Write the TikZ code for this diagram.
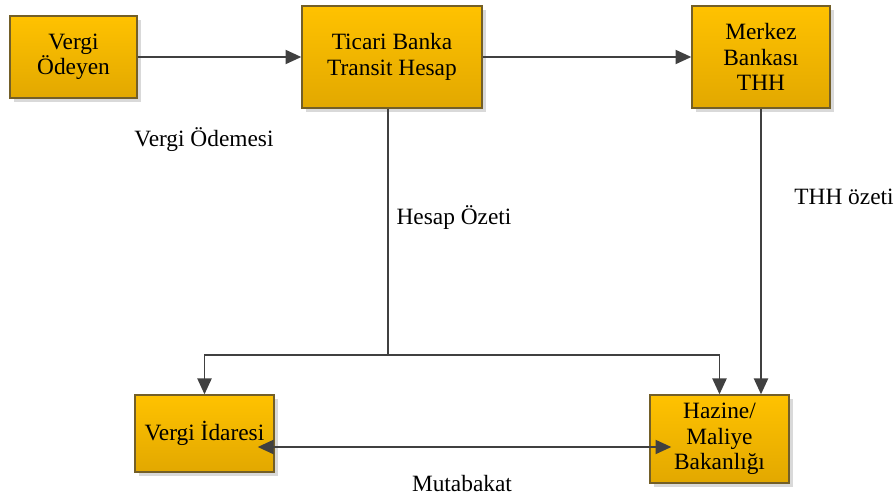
\documentclass[tikz,border=0pt]{standalone}
\usepackage{fontspec}
\setmainfont{Liberation Serif}
\usetikzlibrary{arrows.meta,positioning,calc,shadows}

\definecolor{boxtop}{RGB}{255,194,0}
\definecolor{boxbot}{RGB}{226,168,0}
\definecolor{boxline}{RGB}{115,95,40}
\definecolor{linkcol}{RGB}{64,64,64}

\tikzset{
  blok/.style={draw=boxline, line width=0.8pt, top color=boxtop, bottom color=boxbot,
    align=center, inner sep=2pt,
    drop shadow={shadow xshift=2.5pt, shadow yshift=-2.5pt, fill=black, opacity=0.15}},
  tip/.style={-{Triangle[length=9pt,width=8pt]}},
  link/.style={draw=linkcol, line width=1.1pt, tip},
  lbl/.style={inner sep=1pt}
}

\begin{document}
\begin{tikzpicture}[x=0.02cm, y=-0.02cm, font=\fontsize{13.3}{14.5}\selectfont]
    \useasboundingbox (0,0) rectangle (896,497);
    % top row
    \node[blok, minimum width=2.54cm, minimum height=1.64cm] (vo) at (73.5,57) {Vergi\\Ödeyen};
    \node[blok, minimum width=3.6cm, minimum height=2.04cm] (tb) at (392,57) {Ticari Banka\\Transit Hesap};
    \node[blok, minimum width=2.76cm, minimum height=2.04cm] (mb) at (761,57) {Merkez\\Bankası\\THH};
    % bottom row
    \node[blok, minimum width=2.78cm, minimum height=1.54cm] (vi) at (204.5,433.5) {Vergi İdaresi};
    \node[blok, minimum width=2.78cm, minimum height=1.76cm] (hz) at (719.5,439) {Hazine/\\Maliye\\Bakanlığı};
    % labels
    \node[lbl] (lodeme) at (204,140) {Vergi Ödemesi};
    \node[lbl] (lhesap) at (454,218) {Hesap Özeti};
    \node[lbl] (lthh) at (844,197) {THH özeti};
    \node[lbl] (lmutab) at (462,484) {Mutabakat};
    % connectors
    \coordinate (hj) at (388,355);
    \draw[link] (vo) -- (tb);
    \draw[link] (tb) -- (mb);
    \draw[link, -] (tb.south -| hj) -- (hj);
    \draw[link] (hj) -| (vi);
    \draw[link] (hj) -| (hz);
    \draw[link] (mb.south) -- (mb.south |- hz.north);
    \draw[link, {Triangle[length=9pt,width=8pt]}-{Triangle[length=9pt,width=8pt]},
      shorten <=-0.34cm, shorten >=-0.44cm] (vi.east |- 0,447) -- (hz.west |- 0,447);
\end{tikzpicture}
\end{document}
